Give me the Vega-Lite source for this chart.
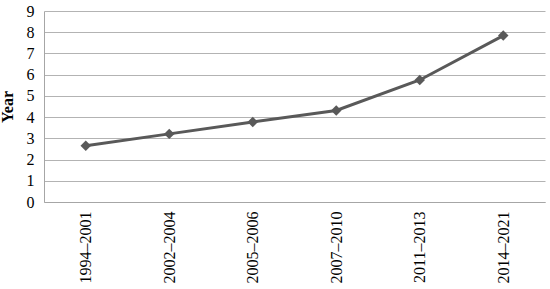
{
  "$schema": "https://vega.github.io/schema/vega-lite/v6.json",
  "autosize": {"type": "none"},
  "padding": {"left": 44, "top": 11, "right": 5, "bottom": 87},
  "width": 501,
  "height": 191,
  "background": "white",
  "config": {
    "view": {"stroke": null},
    "font": "Liberation Serif"
  },
  "data": {
    "values": [
      {"period": "1994–2001", "year": 2.65},
      {"period": "2002–2004", "year": 3.21},
      {"period": "2005–2006", "year": 3.77},
      {"period": "2007–2010", "year": 4.31},
      {"period": "2011–2013", "year": 5.75},
      {"period": "2014–2021", "year": 7.84}
    ]
  },
  "encoding": {
    "x": {
      "field": "period",
      "type": "ordinal",
      "sort": null,
      "scale": {"type": "point", "padding": 0.5},
      "axis": {
        "title": null,
        "labelAngle": -90,
        "labelFont": "Liberation Serif",
        "labelFontSize": 16,
        "labelColor": "#000000",
        "labelPadding": 9,
        "ticks": false,
        "domainColor": "#a6a6a6",
        "domainWidth": 1,
        "grid": false
      }
    },
    "y": {
      "field": "year",
      "type": "quantitative",
      "scale": {"domain": [0, 9]},
      "axis": {
        "title": "Year",
        "titleFont": "Liberation Serif",
        "titleFontSize": 16,
        "titleFontWeight": "bold",
        "titleColor": "#000000",
        "titlePadding": 11,
        "values": [0, 1, 2, 3, 4, 5, 6, 7, 8, 9],
        "labelFont": "Liberation Serif",
        "labelFontSize": 16,
        "labelColor": "#000000",
        "labelPadding": 10,
        "ticks": false,
        "domainColor": "#a6a6a6",
        "domainWidth": 1,
        "grid": true,
        "gridColor": "#b3b3b3",
        "gridWidth": 1
      }
    }
  },
  "layer": [
    {
      "mark": {"type": "line", "color": "#595959", "strokeWidth": 3}
    },
    {
      "mark": {"type": "point", "shape": "diamond", "filled": true, "color": "#595959", "opacity": 1, "size": 110}
    }
  ]
}
